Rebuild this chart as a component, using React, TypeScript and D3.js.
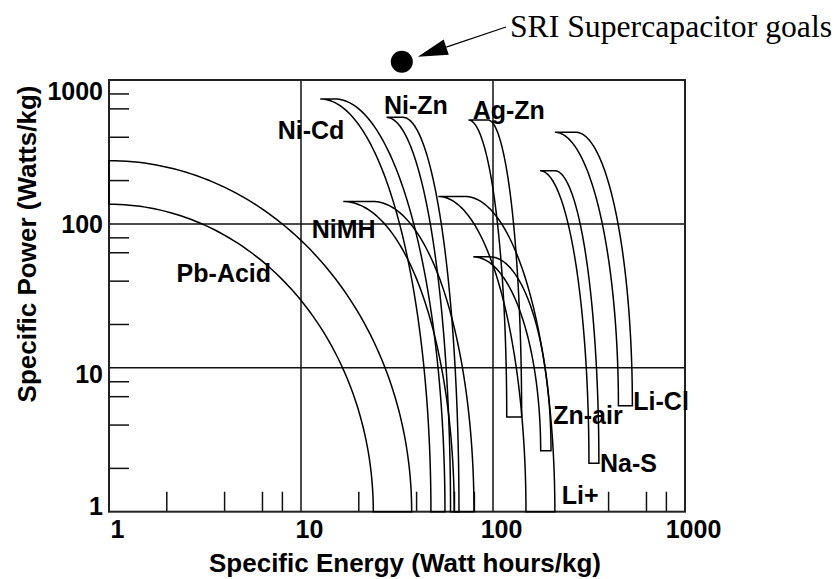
import React from "react";
import * as d3 from "d3";

// ---- data ----
const bandNames = ["Pb-Acid", "Ni-Cd", "NiMH", "Ni-Zn", "Li+", "Ag-Zn", "Zn-air", "Na-S", "Li-Cl"];
const innerStartE = [1, 12.6, 16.6, 27.9, 51.9, 74.5, 78.9, 175.8, 210];
const outerStartE = [1, 15.0, 23.7, 34.0, 71.5, 94.2, 96.5, 210, 270];
const innerTopP = [137, 738, 143, 550, 155, 527, 59, 234, 433];
const outerTopP = [275, 738, 143, 550, 155, 527, 59, 234, 433];
const innerEndE = [23.8, 47.5, 62.8, 60.1, 148.5, 117.9, 177.1, 316, 450];
const outerEndE = [37.7, 56.2, 79.6, 66.5, 210, 141, 200.5, 356, 532];
const bottomP = [1, 1, 1, 1, 1, 4.55, 2.65, 2.17, 5.45];
const labelE = [2.25, 7.56, 11.37, 27.05, 228, 78.4, 206, 360.8, 537.9];
const labelP = [39.6, 392, 79.2, 585, 1.13, 531.6, 4.1, 1.9, 5.13];

const xTickValues = [1, 10, 100, 1000];
const xTickLabels = ["1", "10", "100", "1000"];
const yTickLabels = ["1", "10", "100", "1000"];
const yTickLabelAt = [1.1, 9.06, 100, 845];
const xMinorTicks = [2, 4, 6.3, 8, 20, 40, 63, 80, 400, 630, 800];
const yMinorTicks = [2, 4, 6.3, 8, 20, 40, 63, 80, 200, 400, 630, 800];
const gridValues = [10, 100];

const goalE = [33.5];
const goalP = [1340];
const goalText = "SRI Supercapacitor goals";

const W = 839;
const H = 579;
const sans = "'Liberation Sans', Arial, Helvetica, sans-serif";
const serif = "'Liberation Serif', 'Times New Roman', Times, serif";

export default function App() {
  const x = d3.scaleLog().domain([1, 1000]).range([109, 685]);
  const y = d3.scaleLog().domain([1, 1000]).range([511.7, 80]);
  const line = d3.line<[number, number]>();

  const arcPts = (xs: number, yt: number, xe: number, yb: number): [number, number][] => {
    const n = 80;
    return d3.range(n + 1).map((i) => {
      const t = (i / n) * (Math.PI / 2);
      return [xs + (xe - xs) * Math.sin(t), yb - (yb - yt) * Math.cos(t)] as [number, number];
    });
  };

  const bandPaths = bandNames.map((_, i) => {
    const yb = y(bottomP[i]);
    const inner = arcPts(x(innerStartE[i]), y(innerTopP[i]), x(innerEndE[i]), yb);
    const outer = arcPts(x(outerStartE[i]), y(outerTopP[i]), x(outerEndE[i]), yb).reverse();
    return line([...inner, ...outer])! + "Z";
  });

  const [x0, x1] = x.range();
  const [y0, y1] = y.range();

  const gx = x(goalE[0]);
  const gy = y(goalP[0]);
  const textX = 510;
  const textY = 37;
  const lineStart: [number, number] = [textX - 4, textY - 10];
  const tip: [number, number] = [gx + 16, gy - 5];
  const ang = Math.atan2(lineStart[1] - tip[1], lineStart[0] - tip[0]);
  const hl = 30;
  const hw = 8;
  const bx = tip[0] + hl * Math.cos(ang);
  const by = tip[1] + hl * Math.sin(ang);
  const head = [
    tip,
    [bx - hw * Math.sin(ang), by + hw * Math.cos(ang)],
    [bx + hw * Math.sin(ang), by - hw * Math.cos(ang)],
  ] as [number, number][];

  return (
    <svg
      width={W}
      height={H}
      style={{ position: "absolute", left: 0, top: 0, background: "#fff" }}
    >
      <rect x={0} y={0} width={W} height={H} fill="#fff" />
      {/* grid */}
      {gridValues.map((v) => (
        <line key={"gx" + v} x1={x(v)} x2={x(v)} y1={y1} y2={y0} stroke="#111" strokeWidth={1.5} />
      ))}
      {gridValues.map((v) => (
        <line key={"gy" + v} x1={x0} x2={x1} y1={y(v)} y2={y(v)} stroke="#111" strokeWidth={1.5} />
      ))}
      {/* minor ticks */}
      {xMinorTicks.map((v) => (
        <line key={"xt" + v} x1={x(v)} x2={x(v)} y1={y0} y2={y0 - 20} stroke="#111" strokeWidth={1.5} />
      ))}
      {yMinorTicks.map((v) => (
        <line key={"yt" + v} x1={x0} x2={x0 + 20} y1={y(v)} y2={y(v)} stroke="#111" strokeWidth={1.5} />
      ))}
      {/* frame */}
      <rect x={x0} y={y1} width={x1 - x0} height={y0 - y1} fill="none" stroke="#222" strokeWidth={2} />
      {/* bands */}
      {bandPaths.map((d, i) => (
        <path key={"b" + i} d={d} fill="none" stroke="#000" strokeWidth={1.5} />
      ))}
      {/* band labels */}
      {bandNames.map((n, i) => (
        <text
          key={"l" + i}
          x={x(labelE[i])}
          y={y(labelP[i])}
          fontFamily={sans}
          fontWeight="bold"
          fontSize={25}
          fill="#000"
        >
          {n}
        </text>
      ))}
      {/* tick labels */}
      {xTickValues.map((v, i) => (
        <text
          key={"xl" + v}
          x={x(v) + 8.5}
          y={538}
          textAnchor="middle"
          fontFamily={sans}
          fontWeight="bold"
          fontSize={25}
        >
          {xTickLabels[i]}
        </text>
      ))}
      {yTickLabelAt.map((v, i) => (
        <text
          key={"yl" + i}
          x={103}
          y={y(v) + 9}
          textAnchor="end"
          fontFamily={sans}
          fontWeight="bold"
          fontSize={25}
        >
          {yTickLabels[i]}
        </text>
      ))}
      {/* axis titles */}
      <text x={405} y={572} textAnchor="middle" fontFamily={sans} fontWeight="bold" fontSize={26}>
        Specific Energy (Watt hours/kg)
      </text>
      <text
        transform={`translate(36,244) rotate(-90)`}
        textAnchor="middle"
        fontFamily={sans}
        fontWeight="bold"
        fontSize={26}
      >
        Specific Power (Watts/kg)
      </text>
      {/* goal annotation */}
      <circle cx={gx} cy={gy} r={11} fill="#000" />
      <line x1={lineStart[0]} y1={lineStart[1]} x2={bx} y2={by} stroke="#000" strokeWidth={1.3} />
      <path d={line(head)! + "Z"} fill="#000" />
      <text x={textX} y={textY} fontFamily={serif} fontSize={31.7} fill="#000">
        {goalText}
      </text>
    </svg>
  );
}
